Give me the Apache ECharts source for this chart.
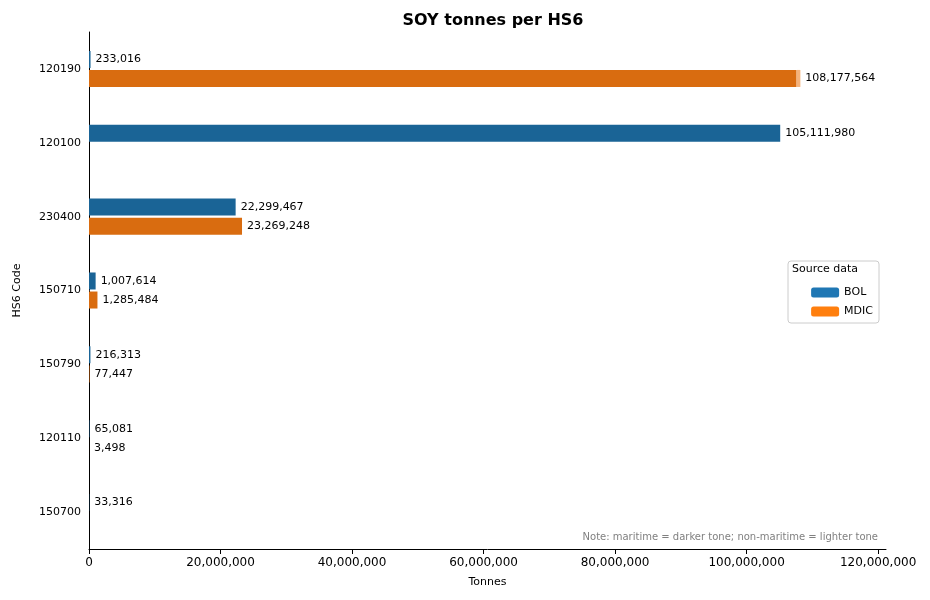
<!DOCTYPE html>
<html><head><meta charset="utf-8">
<script src="https://cdn.jsdelivr.net/npm/echarts@6/dist/echarts.min.js"></script>
<style>body{margin:0}#c{width:930px;height:600px}</style></head>
<body><div id="c"></div>
<script>
const categories=['150700','120110','150790','150710','230400','120100','120190'];
const bolMaritime=[33316,65081,216313,1007614,22299467,105111980,233016];
const bolNonMaritime=[0,0,0,0,0,0,0];
const bolTotal=[33316,65081,216313,1007614,22299467,105111980,233016];
const mdicMaritime=['-',3498,77447,1285484,23269248,'-',107600000];
const mdicNonMaritime=['-',0,0,0,0,'-',577564];
const mdicTotal=['-',3498,77447,1285484,23269248,'-',108177564];
const fmt=v=>Number(v).toLocaleString('en-US');
const lab=(tot)=>({show:true,position:'right',distance:5,color:'#000',fontSize:11,fontFamily:'DejaVu Sans',formatter:p=>fmt(tot[p.dataIndex])});
const chart=echarts.init(document.getElementById('c'));
chart.setOption({
 animation:false,
 title:{text:'SOY tonnes per HS6',left:488,top:8,textAlign:'center',textStyle:{fontSize:16,fontWeight:'bold',fontFamily:'DejaVu Sans',color:'#000'}},
 grid:{left:89,right:44,top:32,bottom:51},
 xAxis:{type:'value',min:0,max:121200000,interval:20000000,name:'Tonnes',nameLocation:'middle',nameGap:28,
  nameTextStyle:{fontSize:11,fontFamily:'DejaVu Sans',color:'#000'},
  axisLine:{show:true,lineStyle:{color:'#000'}},axisTick:{show:true,lineStyle:{color:'#000'}},splitLine:{show:false},
  axisLabel:{showMaxLabel:false,formatter:v=>fmt(v),fontSize:12,fontFamily:'DejaVu Sans',color:'#000'}},
 yAxis:{type:'category',data:categories,name:'HS6 Code',nameLocation:'middle',nameGap:66,nameRotate:90,
  nameTextStyle:{fontSize:11,fontFamily:'DejaVu Sans',color:'#000'},
  axisLine:{lineStyle:{color:'#000'}},axisTick:{alignWithLabel:true,lineStyle:{color:'#000'}},
  axisLabel:{fontSize:11,fontFamily:'DejaVu Sans',color:'#000'}},
 legend:{right:52,top:282,orient:'vertical',itemWidth:28,itemHeight:10,itemGap:8,
  textStyle:{fontSize:11,fontFamily:'DejaVu Sans',color:'#000'},
  data:[{name:'BOL',itemStyle:{color:'#1f77b4'}},{name:'MDIC',itemStyle:{color:'#ff7f0e'}}]},
 graphic:[
  {type:'rect',shape:{x:788,y:261,width:91,height:62,r:3},style:{fill:'#fff',stroke:'#ccc'},z:-1},
  {type:'text',x:792,y:264,style:{text:'Source data',fontSize:11,fontFamily:'DejaVu Sans',fill:'#000'}},
  {type:'text',x:878,y:532,style:{text:'Note: maritime = darker tone; non-maritime = lighter tone',fontSize:10,fontFamily:'DejaVu Sans',fill:'#808080',textAlign:'right'}}
 ],
 series:[
  {name:'BOL',type:'bar',stack:'bol',data:bolMaritime,barWidth:17,barGap:'12%',itemStyle:{color:'#1a6496'}},
  {name:'BOL ',type:'bar',stack:'bol',data:bolNonMaritime,barWidth:17,barGap:'12%',itemStyle:{color:'#8fbbd9'},label:lab(bolTotal)},
  {name:'MDIC',type:'bar',stack:'mdic',data:mdicMaritime,barWidth:17,barGap:'12%',itemStyle:{color:'#d96c10'}},
  {name:'MDIC ',type:'bar',stack:'mdic',data:mdicNonMaritime,barWidth:17,barGap:'12%',itemStyle:{color:'#f5b27a'},label:lab(mdicTotal)}
 ]
});
</script></body></html>
